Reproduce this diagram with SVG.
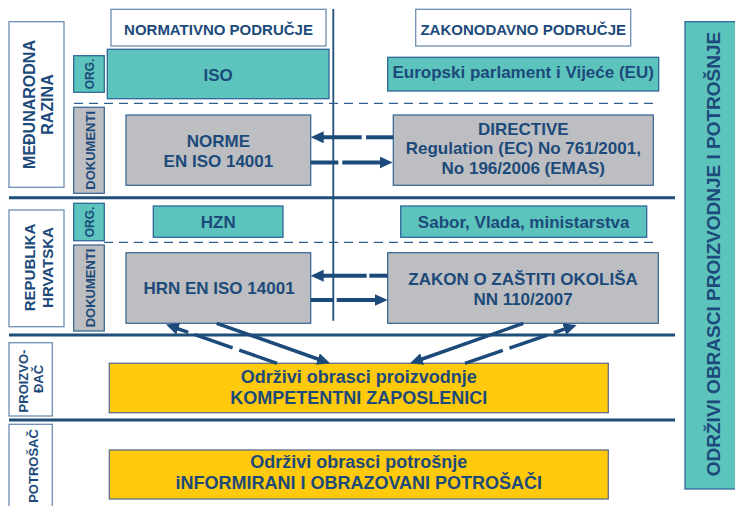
<svg xmlns="http://www.w3.org/2000/svg" width="735" height="506" viewBox="0 0 735 506">
<defs>
<style>
text{font-family:"Liberation Sans",Arial,Helvetica,sans-serif;font-weight:bold;fill:#1c4a7a;text-anchor:middle}
.wb{fill:#fff;stroke:#6d8fb3;stroke-width:1.3}
.tb{fill:#5cc4bc;stroke:#30689a;stroke-width:1.3}
.gb{fill:#bdbec1;stroke:#3d6c98;stroke-width:1.3}
.yb{fill:#ffc90c;stroke:#5f6f86;stroke-width:1.3}
.sep{stroke:#1f4e79;stroke-width:3;fill:none}
.dash{stroke:#2f5f8f;stroke-width:1.2;stroke-dasharray:9 6;fill:none}
.ar{stroke:#1c4a7a;stroke-width:4;fill:none}
.dg{stroke:#1c4a7a;stroke-width:3.5;fill:none}
.f12{font-size:12px}.f13{font-size:13px}.f15{font-size:15px}.f16{font-size:16px}.f17{font-size:17px}.f18{font-size:18px}
</style>
<marker id="ah" markerUnits="userSpaceOnUse" markerWidth="14" markerHeight="12" refX="3" refY="6" orient="auto">
<path d="M0,0 L13,6 L0,12 Z" fill="#1c4a7a"/>
</marker>
</defs>
<rect width="735" height="506" fill="#fff"/>

<g id="separators">
<line class="sep" x1="9" y1="197.7" x2="675" y2="197.7"/>
<line class="sep" x1="9" y1="335" x2="675" y2="335"/>
<line class="sep" x1="9" y1="420" x2="675" y2="420"/>
<line x1="333.3" y1="9" x2="333.3" y2="320.7" stroke="#1f4e79" stroke-width="1.8"/>
<line class="dash" x1="74" y1="103.3" x2="658" y2="103.3"/>
<line class="dash" x1="104" y1="242.3" x2="658" y2="242.3"/>
</g>

<g id="hdr-normativno"><rect class="wb" x="111" y="9.3" width="215" height="36.7"/><text class="f15" x="218.5" y="35">NORMATIVNO PODRUČJE</text></g>
<g id="hdr-zakonodavno"><rect class="wb" x="415.7" y="9.3" width="215" height="36.7"/><text class="f15" x="523.2" y="35">ZAKONODAVNO PODRUČJE</text></g>

<g id="lbl-medunarodna"><rect class="wb" x="9" y="21.7" width="55" height="165.6"/>
<text class="f16" transform="translate(0,104.5) rotate(-90)" x="0" y="35">MEĐUNARODNA</text>
<text class="f16" transform="translate(0,104.5) rotate(-90)" x="0" y="52.5">RAZINA</text></g>
<g id="lbl-org1"><rect class="tb" x="73.7" y="55.7" width="30.6" height="36.6"/><text class="f12" transform="translate(0,74) rotate(-90)" x="0" y="94.3">ORG.</text></g>
<g id="lbl-dok1"><rect class="gb" x="73.7" y="107.3" width="30.6" height="86"/><text class="f13" transform="translate(0,150.3) rotate(-90)" x="0" y="94.5">DOKUMENTI</text></g>

<g id="iso"><rect class="tb" x="107.3" y="49.3" width="221.7" height="49.4"/><text class="f17" x="218.2" y="80.7">ISO</text></g>
<g id="eu"><rect class="tb" x="387.7" y="57.3" width="271" height="33.7"/><text class="f17" x="523.2" y="78.3">Europski parlament i Vijeće (EU)</text></g>
<g id="norme"><rect class="gb" x="126" y="115" width="184.7" height="70.3"/><text class="f17" x="218.4" y="146.7">NORME</text><text class="f17" x="218.4" y="166.7">EN ISO 14001</text></g>
<g id="directive"><rect class="gb" x="393.3" y="115" width="260" height="70.3"/><text class="f17" x="523.3" y="135">DIRECTIVE</text><text class="f17" x="523.3" y="154.3">Regulation (EC) No 761/2001,</text><text class="f17" x="523.3" y="173.5">No 196/2006 (EMAS)</text></g>

<g id="lbl-republika"><rect class="wb" x="9" y="210" width="55" height="116.7"/>
<text class="f15" transform="translate(0,267.5) rotate(-90)" x="0" y="35">REPUBLIKA</text>
<text class="f15" transform="translate(0,267.5) rotate(-90)" x="0" y="53">HRVATSKA</text></g>
<g id="lbl-org2"><rect class="tb" x="73.7" y="203.3" width="30.6" height="37.4"/><text class="f12" transform="translate(0,222) rotate(-90)" x="0" y="94.3">ORG.</text></g>
<g id="lbl-dok2"><rect class="gb" x="73.7" y="245" width="30.6" height="86"/><text class="f13" transform="translate(0,288) rotate(-90)" x="0" y="94.5">DOKUMENTI</text></g>

<g id="hzn"><rect class="tb" x="153.3" y="206" width="129.7" height="31.3"/><text class="f17" x="218.2" y="228.3">HZN</text></g>
<g id="sabor"><rect class="tb" x="400.7" y="206" width="246" height="31.3"/><text class="f17" x="523.7" y="228.3">Sabor, Vlada, ministarstva</text></g>
<g id="hrn"><rect class="gb" x="126" y="252.7" width="184.7" height="70.6"/><text class="f17" x="219" y="294">HRN EN ISO 14001</text></g>
<g id="zakon"><rect class="gb" x="387.7" y="252.7" width="270.6" height="70.6"/><text class="f17" x="523" y="285">ZAKON O ZAŠTITI OKOLIŠA</text><text class="f17" x="523" y="305">NN 110/2007</text></g>

<g id="lbl-proizvodac"><rect class="wb" x="9" y="342.7" width="43.3" height="73.3"/>
<text class="f13" transform="translate(0,381) rotate(-90)" x="0" y="28.3">PROIZVO-</text>
<text class="f13" transform="translate(0,379) rotate(-90)" x="0" y="43.3">ĐAČ</text></g>
<g id="lbl-potrosac"><rect class="wb" x="9" y="424.3" width="43.3" height="90"/>
<text class="f13" transform="translate(0,466) rotate(-90)" x="0" y="38.3">POTROŠAČ</text></g>

<g id="prod"><rect class="yb" x="109.3" y="363.3" width="499" height="49.4"/><text class="f18" x="358.8" y="383.3">Održivi obrasci proizvodnje</text><text class="f18" x="358.8" y="404">KOMPETENTNI ZAPOSLENICI</text></g>
<g id="potr"><rect class="yb" x="109.3" y="450" width="499" height="49"/><text class="f18" x="358.8" y="468.3">Održivi obrasci potrošnje</text><text class="f18" x="358.8" y="489.3">iNFORMIRANI I OBRAZOVANI POTROŠAČI</text></g>

<g id="side"><rect x="685" y="21.7" width="55" height="467.3" fill="#5cc4bc" stroke="#30689a" stroke-width="1.3"/>
<text font-size="19" transform="translate(0,254) rotate(-90)" x="0" y="720">ODRŽIVI OBRASCI PROIZVODNJE I POTROŠNJE</text></g>

<g id="connectors">
<path class="ar" d="M361.7,137.3 L320.7,137.3" marker-end="url(#ah)"/>
<path class="ar" d="M393.3,137.3 L366,137.3"/>
<path class="ar" d="M310.7,162.5 L338.3,162.5"/>
<path class="ar" d="M342.3,162.5 L382.7,162.5" marker-end="url(#ah)"/>
<path class="ar" d="M387.7,275.7 L369.3,275.7"/>
<path class="ar" d="M366.7,275.7 L320.7,275.7" marker-end="url(#ah)"/>
<path class="ar" d="M310.7,300 L333.3,300"/>
<path class="ar" d="M336.7,300 L377.7,300" marker-end="url(#ah)"/>
<path class="dg" d="M277,363.3 L175.4,327.8" stroke-dasharray="40 7" marker-end="url(#ah)"/>
<path class="dg" d="M216.7,323.3 L320.6,360" marker-end="url(#ah)"/>
<path class="dg" d="M523.3,323.3 L419.4,360" marker-end="url(#ah)"/>
<path class="dg" d="M465,363.3 L567.2,328.2" stroke-dasharray="40 7" marker-end="url(#ah)"/>
</g>
</svg>
